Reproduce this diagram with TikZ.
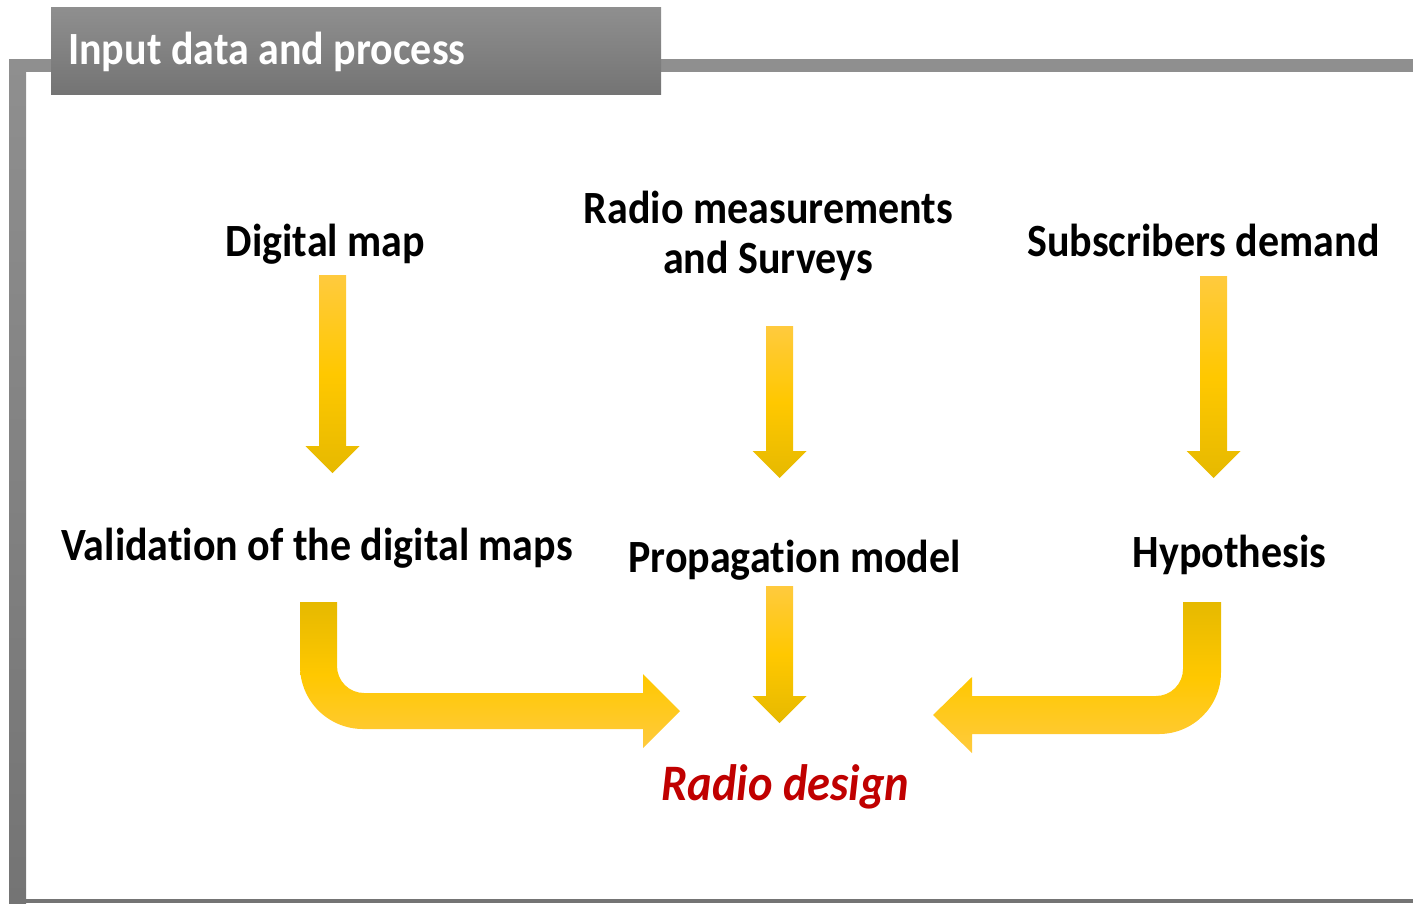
\documentclass[tikz,border=0pt]{standalone}
\usepackage{fontspec}
\setmainfont{Carlito}[Ligatures={NoCommon}]
\usepackage{xcolor}
\usepackage{graphicx}
\definecolor{frameA}{HTML}{8F8F8F}
\definecolor{frameB}{HTML}{747474}
\definecolor{arrLight}{HTML}{FFCA3E}
\definecolor{arrMid}{HTML}{FFC800}
\definecolor{arrDark}{HTML}{E6B900}
\definecolor{designred}{HTML}{C00000}
\newcommand{\tall}[1]{\scalebox{1}[1.1]{#1}}
\tikzset{
  lbl/.style={anchor=base, inner sep=0pt, font=\fontsize{42}{50}\selectfont\bfseries, text=black},
  downarr/.style={top color=arrLight, bottom color=arrDark, middle color=arrMid, draw=none},
  bentarr/.style={top color=arrDark, bottom color=arrLight, middle color=arrMid, draw=none},
}
\newcommand{\darrow}[4]{% cx, top, headback, tip
  \path[downarr] (#1-13.5,#2) -- (#1+13.5,#2) -- (#1+13.5,#3) -- (#1+27,#3) -- (#1,#4) -- (#1-27,#3) -- (#1-13.5,#3) -- cycle;}
\begin{document}
\begin{tikzpicture}[x=1pt,y=-1pt]
\useasboundingbox (0,0) rectangle (1413,903);
% frame
\fill[frameA] (9,59) rectangle (1413,72);
\path[top color=frameA, bottom color=frameB] (9,59) rectangle (26,903);
\fill[frameB] (9,899) rectangle (1413,903);
% title box
\path[top color=frameA, bottom color=frameB] (51,7) rectangle (661,94);
\node[anchor=base west, inner sep=0pt, text=white, font=\fontsize{42}{50}\selectfont\bfseries] (title) at (68,64) {\tall{Input data and process}};
% labels
\node[lbl] (dmap) at (325.5,256) {\tall{Digital map}};
\node[lbl] (radio1) at (768.5,223) {\tall{Radio measurements}};
\node[lbl] (radio2) at (768,273) {\tall{and Surveys}};
\node[lbl] (subs) at (1203.5,256) {\tall{Subscribers demand}};
\node[lbl] (valid) at (317,560) {\tall{Validation of the digital maps}};
\node[lbl] (prop) at (794.5,572) {\tall{Propagation model}};
\node[lbl] (hyp) at (1229.5,567) {\tall{Hypothesis}};
\node[anchor=base, inner sep=0pt, text=designred, font=\fontsize{46.5}{55}\selectfont\bfseries\itshape] (design) at (785.5,800) {\tall{Radio design}};
% straight arrows
\darrow{332.5}{275}{446}{473}
\darrow{779.5}{326}{451}{478}
\darrow{1213.5}{276}{451}{478}
\darrow{779.5}{586}{696}{723}
% bent arrow left
\path[bentarr] (300,602) -- (337,602) -- (337,666)
  .. controls (337,680.9) and (349.1,693) .. (364,693)
  -- (643,693) -- (643,674) -- (680,711) -- (643,748) -- (643,729) -- (363,729)
  .. controls (328.2,729) and (300,700.8) .. (300,666) -- cycle;
% bent arrow right
\path[bentarr] (1221,602) -- (1183,602) -- (1183,669)
  .. controls (1183,683.9) and (1170.9,696) .. (1156,696)
  -- (972,696) -- (972,677) -- (933,715) -- (972,753) -- (972,734) -- (1159,734)
  .. controls (1193.2,734) and (1221,706.2) .. (1221,672) -- cycle;
\end{tikzpicture}
\end{document}
